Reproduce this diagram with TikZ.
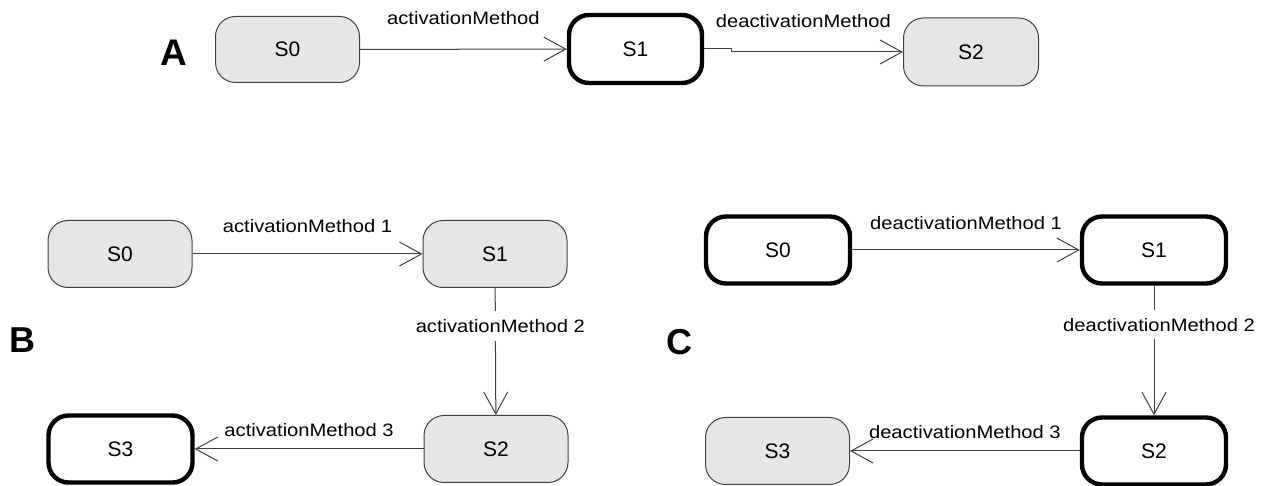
\documentclass[tikz,border=0pt]{standalone}
\usepackage{fontspec}
\setmainfont{Liberation Sans}
\newfontfamily\lblfont[FakeStretch=1.12]{Liberation Sans}
\usetikzlibrary{arrows.meta}
\definecolor{stfill}{HTML}{E6E6E6}
\definecolor{stline}{HTML}{404040}
\begin{document}
\begin{tikzpicture}[x=0.5pt,y=-0.5pt,
  state/.style={draw=stline, fill=stfill, rounded corners=10pt,
    minimum width=72pt, minimum height=33.5pt, line width=0.5pt,
    font=\fontsize{10.5}{12}\selectfont, inner sep=0pt},
  active/.style={draw=black, fill=white, line width=2.2pt},
  tr/.style={draw=black!75, line width=0.5pt,
    -{Straight Barb[length=11pt,width=12pt,line width=0.5pt]}},
  lbl/.style={font=\lblfont\fontsize{9}{10}\selectfont, inner sep=0pt},
  vlbl/.style={lbl, fill=white, inner ysep=4pt, inner xsep=0pt, pos=0.3, xshift=2.5pt},
  panel/.style={font=\fontsize{18}{20}\selectfont\bfseries, inner sep=0pt}
]
\useasboundingbox (0,0) rectangle (1271,486);

% Panel A
\node[panel, font=\fontsize{18.5}{20}\selectfont\bfseries] (la) at (174,53) {A};
\node[state, minimum width=72pt, minimum height=33pt] (a0) at (287.5,49.5) {S0};
\node[state, active, minimum width=66.5pt, minimum height=34pt] (a1) at (635.5,49) {S1};
\node[state, minimum width=67.5pt, minimum height=34pt] (a2) at (971,52) {S2};
\draw[tr] (a0) -- node[lbl, above=12pt] {activationMethod} (a1);
\draw[tr] (a1.east) -- ++(27,0) -- ++(0,3) -- node[lbl, above=12pt, pos=0.42] {deactivationMethod} (a2.west);

% Panel B
\node[panel] (lb) at (22,340) {B};
\node[state] (b0) at (120,254) {S0};
\node[state] (b1) at (495,254) {S1};
\node[state] (b2) at (496,449) {S2};
\node[state, active] (b3) at (120.5,449) {S3};
\draw[tr] (b0) -- node[lbl, above=10.5pt] {activationMethod 1} (b1);
\draw[tr] (b1) -- node[vlbl] {activationMethod 2} (b2);
\draw[tr] (b2) -- node[lbl, above=6pt] {activationMethod 3} (b3);

% Panel C
\node[panel] (lc) at (679,342) {C};
\node[state, active] (c0) at (778,250) {S0};
\node[state, active] (c1) at (1154,250) {S1};
\node[state, active] (c2) at (1154,451) {S2};
\node[state] (c3) at (777.5,451) {S3};
\draw[tr] (c0) -- node[lbl, above=10pt] {deactivationMethod 1} (c1);
\draw[tr] (c1) -- node[vlbl] {deactivationMethod 2} (c2);
\draw[tr] (c2) -- node[lbl, above=6pt] {deactivationMethod 3} (c3);
\end{tikzpicture}
\end{document}
